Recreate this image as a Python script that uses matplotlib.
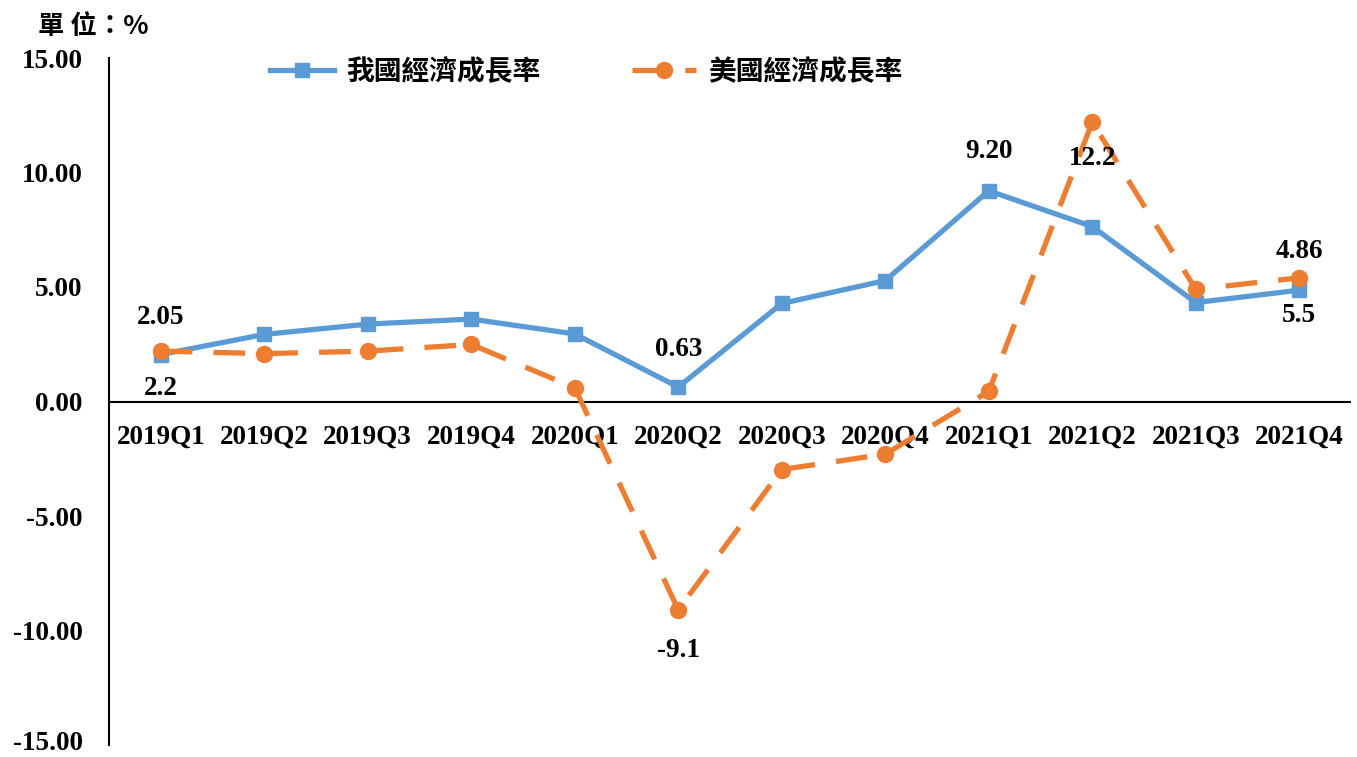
import matplotlib
matplotlib.use("Agg")
import matplotlib.pyplot as plt
import matplotlib.transforms as mtransforms

categories = ["2019Q1", "2019Q2", "2019Q3", "2019Q4", "2020Q1", "2020Q2",
              "2020Q3", "2020Q4", "2021Q1", "2021Q2", "2021Q3", "2021Q4"]
tw_growth = [2.05, 2.93, 3.38, 3.60, 2.95, 0.63, 4.28, 5.28, 9.20, 7.64, 4.32, 4.86]
us_growth = [2.2, 2.09, 2.2, 2.49, 0.60, -9.1, -2.97, -2.3, 0.44, 12.2, 4.9, 5.4]
tw_name = "我國經濟成長率"
us_name = "美國經濟成長率"
y_ticks = [15, 10, 5, 0, -5, -10, -15]
# (index, text, offset in points)
tw_labels = [(0, "2.05", 27), (5, "0.63", 27), (8, "9.20", 28), (11, "4.86", 28)]
us_labels = [(0, "2.2", -27), (5, "-9.1", -29), (9, "12.2", -26), (11, "5.5", -27)]

BLUE = "#5B9BD5"
ORANGE = "#ED7D31"
serif = ["Liberation Serif", "DejaVu Serif"]
cjk = ["Noto Sans CJK TC", "DejaVu Sans"]

fig = plt.figure(figsize=(13.57, 7.57), dpi=100)
ax = fig.add_axes([109/1357, 1-745/757, 1242/1357, (745-58)/757])
x = list(range(len(categories)))

ax.plot(x, tw_growth, color=BLUE, lw=3.8, marker="s", markersize=10,
        label=tw_name, zorder=3)
ax.plot(x, us_growth, color=ORANGE, lw=3.8, ls=(0, (6, 4)), marker="o",
        markersize=11.5, label=us_name, zorder=4)

for i, t, off in tw_labels:
    ax.annotate(t, (x[i], tw_growth[i]), xytext=(0, off), textcoords="offset points",
                ha="center", va="center", fontsize=19.5, fontweight="bold",
                family=serif, zorder=5)
for i, t, off in us_labels:
    ax.annotate(t, (x[i], us_growth[i]), xytext=(0, off), textcoords="offset points",
                ha="center", va="center", fontsize=19.5, fontweight="bold",
                family=serif, zorder=5)

ax.set_xlim(-0.5, len(categories) - 0.5)
ax.set_ylim(-15, 15)
ax.set_yticks(y_ticks)
ax.set_yticklabels([f"{v:.2f}" for v in y_ticks], fontsize=19.5, fontweight="bold",
                   family=serif)
ax.tick_params(axis="y", length=0, pad=19)
# nudge the bottom tick label up slightly so it is not clipped
lbl = ax.get_yticklabels()[-1]
lbl.set_transform(lbl.get_transform() +
                  mtransforms.ScaledTranslation(0, 4/100, fig.dpi_scale_trans))
ax.set_xticks([])
for i, c in enumerate(categories):
    ax.text(x[i], -1.55, c, ha="center", va="center", fontsize=19.5,
            fontweight="bold", family=serif)

for s in ["top", "right", "bottom"]:
    ax.spines[s].set_visible(False)
ax.spines["left"].set_linewidth(1.5)
ax.axhline(0, color="black", lw=1.5, zorder=2)

leg = ax.legend(loc="center left", bbox_to_anchor=(245/1357, 1-72/757),
                bbox_transform=fig.transFigure, ncol=2, frameon=False,
                handlelength=2.3, columnspacing=3.3, handletextpad=0.45,
                prop={"family": cjk, "size": 20, "weight": "bold"})

fig.text(38/1357, 1-27/757, "單 位：%", ha="left", va="center", fontsize=19,
         fontweight="bold", family=cjk)

fig.savefig("out.png", dpi=100)
